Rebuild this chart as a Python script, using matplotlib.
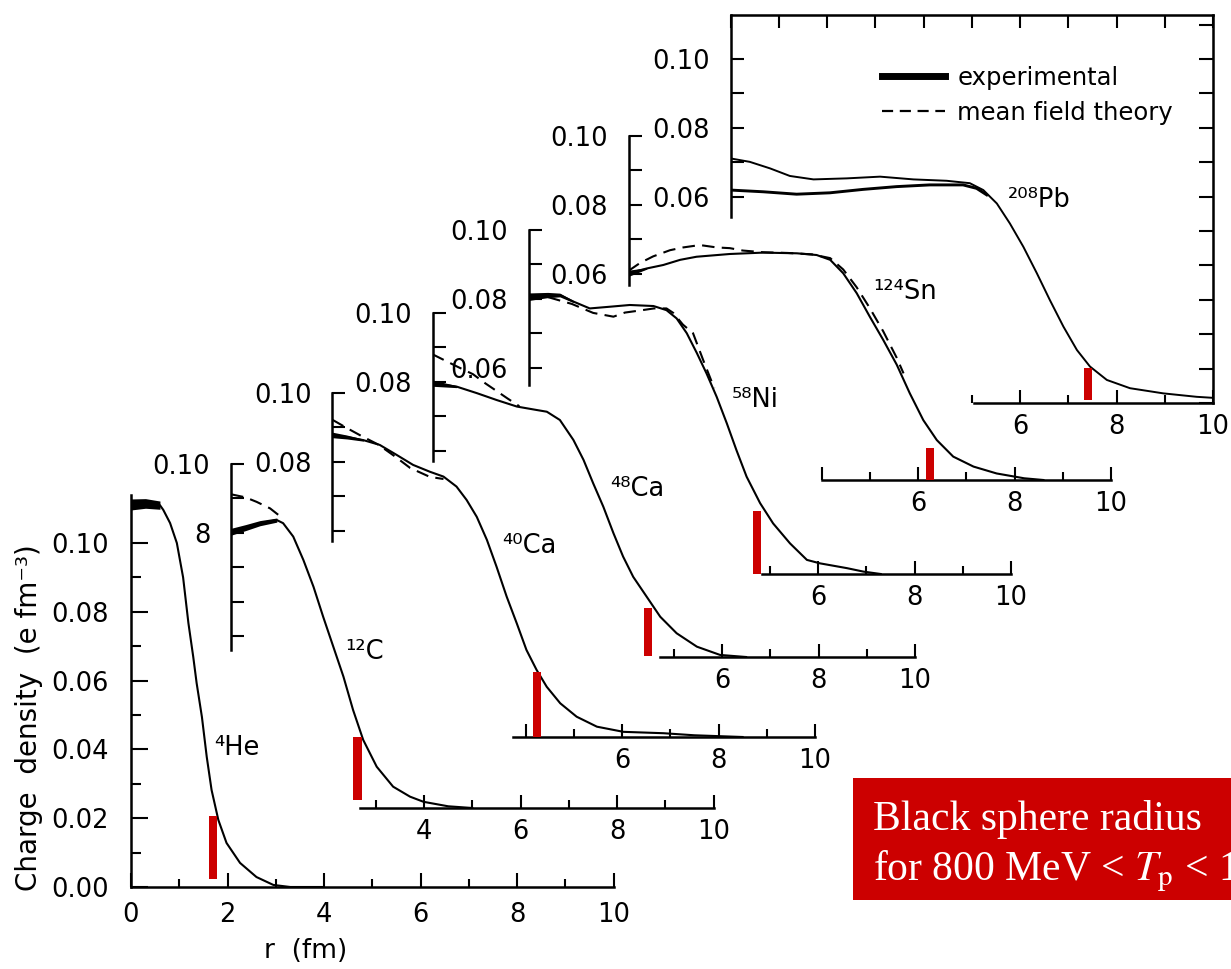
import matplotlib
matplotlib.use("Agg")
import numpy as np
import matplotlib.pyplot as plt
from matplotlib.lines import Line2D
from matplotlib.patches import Rectangle

plt.rcParams['font.family'] = ['DejaVu Sans']

# charge densities (e fm^-3) against r (fm), experimental band centre
he_r = [0, 0.3, 0.6, 0.67, 0.81, 0.95, 1.08, 1.19, 1.29, 1.36, 1.47, 1.57, 1.67, 1.81, 1.98, 2.26, 2.6, 2.95, 3.3, 4.0]
he_rho = [0.1112, 0.1115, 0.1110, 0.1096, 0.1058, 0.1000, 0.0900, 0.0767, 0.0669, 0.0593, 0.0494, 0.0378, 0.0282,
          0.0195, 0.0128, 0.0070, 0.0029, 0.0006, 0.0, 0.0]

c_r = [0, 0.3, 0.6, 0.95, 1.08, 1.29, 1.5, 1.71, 1.91, 2.12, 2.33, 2.53, 2.74, 3.02, 3.36, 3.71, 3.99, 4.5, 5.0]
c_rho = [0.0803, 0.0815, 0.0828, 0.0837, 0.0828, 0.0789, 0.0721, 0.0643, 0.0556, 0.0469, 0.0382, 0.0285, 0.0198,
         0.0120, 0.0062, 0.0033, 0.0018, 0.0005, 0.0]
c_th_r = [0, 0.3, 0.53, 0.81, 1.0]
c_th_rho = [0.0912, 0.0903, 0.0890, 0.0871, 0.0850]

ca40_r = [0, 0.3, 0.64, 0.98, 1.33, 1.67, 2.02, 2.3, 2.57, 2.78, 2.99, 3.2, 3.4, 3.61, 3.82, 4.02, 4.23, 4.44, 4.72,
          5.06, 5.48, 6.03, 6.86, 7.5, 8.5]
ca40_rho = [0.0878, 0.0872, 0.0863, 0.0849, 0.0820, 0.0791, 0.0771, 0.0757, 0.0728, 0.0689, 0.0640, 0.0573, 0.0495,
            0.0408, 0.0330, 0.0253, 0.0195, 0.0146, 0.0098, 0.0059, 0.0030, 0.0015, 0.0011, 0.0005, 0.0]
ca40_th_r = [0, 0.3, 0.6, 0.95, 1.3, 1.61, 2.02, 2.3]
ca40_th_rho = [0.0922, 0.0898, 0.0875, 0.0850, 0.0815, 0.0782, 0.0756, 0.0750]

ca48_r = [0, 0.5, 0.92, 1.33, 1.75, 2.16, 2.37, 2.64, 2.92, 3.13, 3.33, 3.54, 3.75, 3.95, 4.16, 4.44, 4.72, 5.06, 5.48,
          5.96, 6.5]
ca48_rho = [0.0796, 0.0786, 0.0767, 0.0747, 0.0728, 0.0718, 0.0713, 0.0689, 0.0631, 0.0573, 0.0505, 0.0437, 0.0360,
            0.0292, 0.0233, 0.0175, 0.0117, 0.0069, 0.0030, 0.0006, 0.0]
ca48_th_r = [0, 0.5, 0.84, 1.1, 1.3, 1.55, 1.8]
ca48_th_rho = [0.0880, 0.0845, 0.0822, 0.0795, 0.0776, 0.0752, 0.0729]

ni_r = [0, 0.4, 0.65, 0.93, 1.27, 1.69, 2.1, 2.59, 2.86, 3.07, 3.28, 3.49, 3.69, 3.9, 4.11, 4.31, 4.52, 4.8, 5.07,
        5.42, 5.77, 6.04, 6.6, 6.94, 7.3]
ni_rho = [0.0806, 0.0811, 0.0811, 0.0792, 0.0772, 0.0777, 0.0782, 0.0779, 0.0767, 0.0743, 0.0700, 0.0642, 0.0583,
          0.0515, 0.0438, 0.0360, 0.0283, 0.0206, 0.0147, 0.0089, 0.0041, 0.0031, 0.0017, 0.0007, 0.0]
ni_th_r = [0, 0.4, 0.9, 1.34, 1.76, 2.0, 2.31, 2.6, 2.86, 3.0, 3.2, 3.41, 3.62, 3.85]
ni_th_rho = [0.0812, 0.0805, 0.0785, 0.0759, 0.0748, 0.0760, 0.0766, 0.0772, 0.0772, 0.0759, 0.0725, 0.0700, 0.0622,
             0.0540]

sn_r = [0, 0.38, 0.72, 1.07, 1.41, 2.1, 2.79, 3.49, 3.9, 4.18, 4.45, 4.73, 5.0, 5.28, 5.56, 5.83, 6.11, 6.39, 6.73,
        7.15, 7.63, 8.2, 8.6]
sn_rho = [0.0601, 0.0615, 0.0625, 0.0640, 0.0649, 0.0657, 0.0661, 0.0659, 0.0654, 0.0640, 0.0601, 0.0543, 0.0475,
          0.0407, 0.0335, 0.0252, 0.0174, 0.0116, 0.0068, 0.0039, 0.0019, 0.0005, 0.0]
sn_th_r = [0, 0.24, 0.51, 0.86, 1.13, 1.48, 1.83, 2.1, 2.37, 2.8, 3.3, 3.8, 4.18, 4.45, 4.73, 5.0, 5.28, 5.56, 5.7]
sn_th_rho = [0.0608, 0.0631, 0.0650, 0.0668, 0.0676, 0.0683, 0.0676, 0.0674, 0.0667, 0.0662, 0.0660, 0.0656, 0.0645,
             0.0612, 0.0560, 0.0500, 0.0432, 0.0355, 0.0310]

pb_r = [0, 0.68, 1.37, 2.06, 2.75, 3.44, 4.13, 4.82, 5.1, 5.31]
pb_rho = [0.0619, 0.0614, 0.0607, 0.0611, 0.0621, 0.0629, 0.0634, 0.0634, 0.0624, 0.0605]
pb_th_r = [0, 0.4, 0.82, 1.23, 1.72, 2.41, 3.1, 3.79, 4.48, 4.96, 5.24, 5.52, 5.79, 6.07, 6.35, 6.62, 6.9, 7.18, 7.45,
           7.8, 8.28, 8.97, 9.66, 10]
pb_th_rho = [0.0711, 0.0701, 0.0682, 0.0660, 0.0650, 0.0653, 0.0658, 0.0650, 0.0646, 0.0639, 0.0619, 0.0580, 0.0522,
             0.0454, 0.0377, 0.0299, 0.0222, 0.0154, 0.0106, 0.0067, 0.0043, 0.0028, 0.0018, 0.0015]

nuclei = ["⁴He", "¹²C", "⁴⁰Ca", "⁴⁸Ca", "⁵⁸Ni", "¹²⁴Sn", "²⁰⁸Pb"]
# black sphere radius (fm) and the extent of its marker
bs_radius = [1.70, 2.62, 4.24, 4.47, 4.74, 6.25, 7.41]
bs_top = [0.0206, 0.0206, 0.0189, 0.0142, 0.0183, 0.0093, 0.0102]
bs_bottom = [0.0023, 0.0023, 0.0, 0.0003, 0.0, 0.0, 0.0009]

W, H = 1231, 969
FM = 48.25      # pixels per fm
RHO = 3440.0    # pixels per e fm^-3
RED = "#cc0000"

fig = plt.figure(figsize=(W / 100, H / 100), dpi=100)


def make_panel(x0, y0, ytop, rho_span, r_span, yt, ylab, xt, xlab, xminor, ymin=None, ylpad=15):
    ax = fig.add_axes([x0 / W, 1 - y0 / H, 10 * FM / W, ytop * RHO / H])
    ax.set_xlim(0, 10)
    ax.set_ylim(0, ytop)
    ax.patch.set_visible(False)
    ax.spines["top"].set_visible(False)
    ax.spines["right"].set_visible(False)
    ax.spines["left"].set_bounds(*rho_span)
    ax.spines["bottom"].set_bounds(*r_span)
    for s in ("left", "bottom"):
        ax.spines[s].set_linewidth(1.8)
    ax.set_yticks(yt, ylab)
    ax.set_xticks(xt, xlab)
    ax.set_xticks(xminor, minor=True)
    if ymin is not None:
        ax.set_yticks(ymin, minor=True)
    ax.tick_params(which="both", direction="in", width=1.5, labelsize=18.5)
    ax.tick_params(axis="y", which="major", length=9.5, pad=ylpad)
    ax.tick_params(axis="y", which="minor", length=7)
    ax.tick_params(axis="x", which="major", length=9.5, pad=8)
    ax.tick_params(axis="x", which="minor", length=6)
    return ax


def draw(ax, r, rho, band_end, hw0, hw1, th_r=None, th_rho=None, lw=1.5):
    r = np.asarray(r)
    rho = np.asarray(rho)
    ax.plot(r, rho, color="k", lw=lw, solid_joinstyle="round", zorder=2)
    # thicker experimental band close to the centre
    if band_end > 0:
        m = r <= band_end
        hw = hw0 + (hw1 - hw0) * r[m] / band_end
        ax.fill_between(r[m], rho[m] - hw, rho[m] + hw, color="k", lw=0, zorder=2)
    if th_r is not None:
        ax.plot(th_r, th_rho, color="k", lw=1.5, ls=(0, (6, 3.5)), zorder=2)


def label_nucleus(ax, i, r, rho):
    ax.text(r, rho, nuclei[i], fontsize=18.5, ha="left", va="center", family=["DejaVu Sans"])


def black_sphere(ax, i):
    ax.bar(bs_radius[i], bs_top[i] - bs_bottom[i], width=0.17, bottom=bs_bottom[i], color=RED, lw=0, zorder=4)


# 4He
ev = [0, 2, 4, 6, 8, 10]
ax_he = make_panel(131, 887, 0.115, (0, 0.114), (0, 10),
                   [0, 0.02, 0.04, 0.06, 0.08, 0.10], ["0.00", "0.02", "0.04", "0.06", "0.08", "0.10"],
                   ev, [str(v) for v in ev], [1, 3, 5, 7, 9],
                   ymin=[0.01, 0.03, 0.05, 0.07, 0.09], ylpad=16)
ax_he.tick_params(axis="y", which="major", length=12)
ax_he.tick_params(axis="x", which="major", length=10, pad=11)
draw(ax_he, he_r, he_rho, 0.6, 0.0016, 0.0012)
label_nucleus(ax_he, 0, 1.72, 0.0405)
black_sphere(ax_he, 0)
ax_he.set_ylabel("Charge  density  (e fm⁻³)", fontsize=20)
ax_he.yaxis.set_label_coords(-0.182, 0.427)
ax_he.set_xlabel("r  (fm)", fontsize=19)
ax_he.xaxis.set_label_coords(0.361, -0.128)

six = [0.06, 0.07, 0.08, 0.09, 0.10]

# 12C
ax_c = make_panel(231, 808, 0.115, (0.046, 0.10), (2.67, 10),
                  [0.05] + six, ["", "", "", "8", "", "0.10"],
                  [4, 6, 8, 10], ["4", "6", "8", "10"], [3, 5, 7, 9])
draw(ax_c, c_r, c_rho, 0.95, 0.0010, 0.0006, c_th_r, c_th_rho)
label_nucleus(ax_c, 1, 2.36, 0.0453)
black_sphere(ax_c, 1)

# 40Ca
ax_ca40 = make_panel(332.5, 737, 0.115, (0.057, 0.10), (3.75, 10),
                     six, ["", "", "0.08", "", "0.10"],
                     [4, 6, 8, 10], ["", "6", "8", "10"], [5, 7, 9])
draw(ax_ca40, ca40_r, ca40_rho, 0.64, 0.0008, 0.0003, ca40_th_r, ca40_th_rho)
label_nucleus(ax_ca40, 2, 3.51, 0.0555)
black_sphere(ax_ca40, 2)

# 48Ca
ax_ca48 = make_panel(432.5, 657, 0.115, (0.057, 0.10), (4.72, 10),
                     six, ["", "", "0.08", "", "0.10"],
                     [6, 8, 10], ["6", "8", "10"], [5, 7, 9])
draw(ax_ca48, ca48_r, ca48_rho, 0.5, 0.0009, 0.0003, ca48_th_r, ca48_th_rho)
label_nucleus(ax_ca48, 3, 3.68, 0.0488)
black_sphere(ax_ca48, 3)

# 58Ni
ax_ni = make_panel(528.5, 574, 0.115, (0.055, 0.10), (4.84, 10),
                   six, ["0.06", "", "0.08", "", "0.10"],
                   [6, 8, 10], ["6", "8", "10"], [5, 7, 9])
draw(ax_ni, ni_r, ni_rho, 0.93, 0.0011, 0.0003, ni_th_r, ni_th_rho)
label_nucleus(ax_ni, 4, 4.22, 0.0506)
black_sphere(ax_ni, 4)

# 124Sn
ax_sn = make_panel(628.5, 480, 0.115, (0.0567, 0.10), (4.0, 10),
                   six, ["0.06", "", "0.08", "", "0.10"],
                   [4, 6, 8, 10], ["", "6", "8", "10"], [5, 7, 9])
draw(ax_sn, sn_r, sn_rho, 0.38, 0.0009, 0.0002, sn_th_r, sn_th_rho)
label_nucleus(ax_sn, 5, 5.07, 0.0547)
black_sphere(ax_sn, 5)

# 208Pb, boxed panel with the legend
pb_top = 0.1128
ax_pb = make_panel(730.5, 403, pb_top, (0.054, pb_top), (5.05, 10),
                   six, ["0.06", "", "0.08", "", "0.10"],
                   [6, 8, 10], ["6", "8", "10"], [5, 7, 9])
ax_pb.spines["top"].set_visible(True)
ax_pb.spines["right"].set_visible(True)
ax_pb.spines["top"].set_linewidth(1.8)
ax_pb.spines["right"].set_linewidth(1.8)
top = ax_pb.secondary_xaxis("top")
top.set_xticks(range(0, 11))
top.tick_params(direction="in", length=9, width=1.5, labeltop=False)
right = ax_pb.secondary_yaxis("right")
right.set_yticks([0.01 * k for k in range(0, 12)])
right.tick_params(direction="in", length=10, width=1.5, labelright=False)
draw(ax_pb, pb_r, pb_rho, 0, 0, 0, lw=2.1)
ax_pb.plot(pb_th_r, pb_th_rho, color="k", lw=1.4, solid_joinstyle="round", zorder=2)
label_nucleus(ax_pb, 6, 5.75, 0.059)
black_sphere(ax_pb, 6)

handles = [Line2D([], [], color="k", lw=5),
           Line2D([], [], color="k", lw=1.6, ls=(0, (5, 3)))]
ax_pb.legend(handles, ["experimental", "mean field theory"], loc="upper left",
             bbox_to_anchor=(882 / W, 1 - 66 / H), bbox_transform=fig.transFigure,
             frameon=False, fontsize=17.5, handlelength=2.6, handletextpad=0.5,
             labelspacing=0.45, borderpad=0, borderaxespad=0)

# black sphere note
fig.patches.append(Rectangle((853 / W, 1 - 900 / H), 400 / W, 122 / H, transform=fig.transFigure,
                             facecolor=RED, edgecolor="none", zorder=5))
fig.text(873 / W, 1 - 830 / H, "Black sphere radius", fontsize=30, color="white",
         family="Liberation Serif", va="baseline", zorder=6)
fig.text(873 / W, 1 - 880 / H, r"for 800 MeV < $T_\mathrm{p}$ < 1 GeV", fontsize=30, color="white",
         family="Liberation Serif", math_fontfamily="stix", va="baseline", zorder=6)

fig.savefig("out.png", dpi=100, facecolor="white")
